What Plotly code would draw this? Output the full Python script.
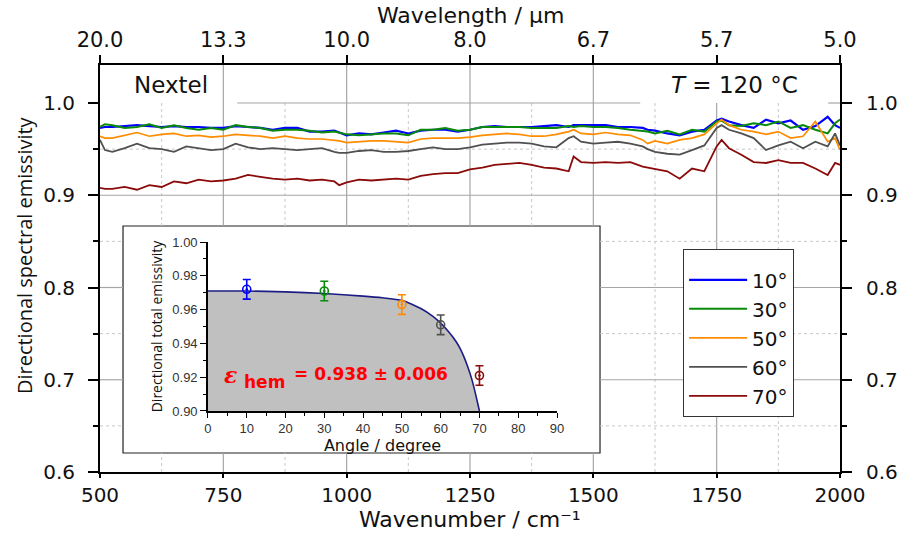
import plotly.graph_objects as go

# ---- spectral emissivity (Nextel, T = 120 °C) ----
wavenumber = [500, 510, 525, 550, 575, 600, 625, 650, 675, 700, 725, 750, 775, 800, 825, 850,
              875, 900, 925, 950, 975, 985, 1000, 1025, 1050, 1075, 1100, 1125, 1150, 1175, 1200,
              1225, 1250, 1275, 1300, 1325, 1350, 1375, 1400, 1425, 1450, 1460, 1475, 1500, 1525,
              1550, 1575, 1600, 1610, 1625, 1650, 1675, 1700, 1725, 1750, 1760, 1775, 1800, 1825,
              1850, 1875, 1900, 1925, 1950, 1975, 1990, 2000]

eps_10 = [0.973, 0.974, 0.974, 0.975, 0.976, 0.975, 0.974, 0.975, 0.974, 0.974, 0.973, 0.973,
          0.975, 0.974, 0.973, 0.971, 0.973, 0.973, 0.969, 0.969, 0.970, 0.968, 0.965, 0.967,
          0.966, 0.968, 0.970, 0.967, 0.970, 0.971, 0.971, 0.969, 0.971, 0.974, 0.975, 0.974,
          0.974, 0.974, 0.975, 0.976, 0.974, 0.976, 0.976, 0.976, 0.976, 0.974, 0.974, 0.973,
          0.971, 0.970, 0.967, 0.965, 0.969, 0.971, 0.981, 0.983, 0.980, 0.976, 0.973, 0.982,
          0.978, 0.981, 0.971, 0.975, 0.985, 0.976, 0.973]

eps_30 = [0.974, 0.977, 0.976, 0.973, 0.974, 0.977, 0.973, 0.976, 0.973, 0.971, 0.973, 0.971,
          0.976, 0.974, 0.973, 0.970, 0.971, 0.971, 0.970, 0.968, 0.969, 0.968, 0.966, 0.965,
          0.966, 0.967, 0.967, 0.965, 0.971, 0.971, 0.973, 0.970, 0.971, 0.974, 0.974, 0.974,
          0.974, 0.973, 0.973, 0.973, 0.975, 0.974, 0.975, 0.974, 0.974, 0.973, 0.971, 0.970,
          0.969, 0.967, 0.970, 0.966, 0.971, 0.969, 0.980, 0.981, 0.976, 0.975, 0.978, 0.976,
          0.980, 0.973, 0.976, 0.971, 0.967, 0.978, 0.982]

eps_50 = [0.964, 0.962, 0.962, 0.965, 0.968, 0.964, 0.966, 0.967, 0.964, 0.965, 0.963, 0.964,
          0.966, 0.965, 0.964, 0.962, 0.964, 0.962, 0.961, 0.961, 0.960, 0.959, 0.957, 0.958,
          0.959, 0.959, 0.958, 0.957, 0.961, 0.962, 0.962, 0.962, 0.963, 0.965, 0.966, 0.967,
          0.966, 0.964, 0.964, 0.966, 0.969, 0.971, 0.967, 0.966, 0.968, 0.966, 0.965, 0.960,
          0.956, 0.959, 0.956, 0.960, 0.962, 0.966, 0.978, 0.982, 0.976, 0.971, 0.969, 0.966,
          0.969, 0.962, 0.964, 0.980, 0.958, 0.962, 0.949]

eps_60 = [0.960, 0.949, 0.947, 0.951, 0.956, 0.951, 0.950, 0.947, 0.953, 0.951, 0.949, 0.950,
          0.956, 0.952, 0.950, 0.951, 0.950, 0.949, 0.950, 0.951, 0.947, 0.946, 0.946, 0.948,
          0.949, 0.947, 0.947, 0.948, 0.950, 0.952, 0.950, 0.950, 0.952, 0.955, 0.956, 0.957,
          0.957, 0.956, 0.953, 0.952, 0.962, 0.964, 0.958, 0.956, 0.957, 0.958, 0.956, 0.953,
          0.950, 0.947, 0.945, 0.944, 0.949, 0.954, 0.973, 0.976, 0.971, 0.967, 0.962, 0.949,
          0.954, 0.958, 0.951, 0.958, 0.953, 0.967, 0.954]

eps_70 = [0.908, 0.907, 0.907, 0.909, 0.906, 0.911, 0.909, 0.915, 0.913, 0.917, 0.915, 0.916,
          0.918, 0.922, 0.920, 0.918, 0.917, 0.918, 0.916, 0.917, 0.915, 0.911, 0.914, 0.917,
          0.916, 0.917, 0.918, 0.917, 0.921, 0.923, 0.924, 0.924, 0.928, 0.930, 0.933, 0.934,
          0.935, 0.933, 0.930, 0.929, 0.926, 0.942, 0.936, 0.935, 0.936, 0.935, 0.936, 0.931,
          0.930, 0.928, 0.926, 0.918, 0.929, 0.926, 0.953, 0.960, 0.951, 0.944, 0.936, 0.935,
          0.938, 0.935, 0.935, 0.929, 0.922, 0.935, 0.933]

series_names = ["10°", "30°", "50°", "60°", "70°"]
series_colors = ["#0000ff", "#0a8a0a", "#ff8c00", "#505050", "#8b0a0a"]
series_widths = [2.2, 2.0, 1.7, 1.8, 1.8]

wn_ticks = [500, 750, 1000, 1250, 1500, 1750, 2000]
wl_labels = ["20.0", "13.3", "10.0", "8.0", "6.7", "5.7", "5.0"]
y_ticks = [0.6, 0.7, 0.8, 0.9, 1.0]

# ---- directional total emissivity (inset) ----
angle_deg = [10, 30, 50, 60, 70]
eps_total = [0.972, 0.971, 0.963, 0.951, 0.921]
eps_total_err = [0.0058, 0.0058, 0.0058, 0.0058, 0.0058]

fit_angle = [0, 10, 20, 30, 40, 45, 50, 55, 58, 60, 62, 64, 65, 66, 67, 68, 69, 70]
fit_eps = [0.971, 0.971, 0.9705, 0.9695, 0.968, 0.967, 0.9655, 0.9605, 0.956, 0.952,
           0.947, 0.941, 0.937, 0.932, 0.926, 0.919, 0.910, 0.900]

Y_MIN, Y_MAX = 0.6, 1.0412
X_MIN, X_MAX = 500, 2000

fig = go.Figure()

for name, ys, col, w in zip(series_names, [eps_10, eps_30, eps_50, eps_60, eps_70],
                            series_colors, series_widths):
    fig.add_trace(go.Scatter(x=wavenumber, y=ys, mode="lines", name=name,
                             line=dict(color=col, width=w)))

# empty traces so the wavelength (top) and mirrored (right) axes get drawn
fig.add_trace(go.Scatter(x=[], y=[], xaxis="x2", yaxis="y", showlegend=False,
                         hoverinfo="skip"))
fig.add_trace(go.Scatter(x=[], y=[], xaxis="x", yaxis="y2", showlegend=False,
                         hoverinfo="skip"))

# inset: shaded area under the angular fit
fig.add_trace(go.Scatter(x=fit_angle, y=fit_eps, mode="lines", xaxis="x3", yaxis="y3",
                         line=dict(color="#1c1c84", width=1.6, shape="spline", smoothing=0.5),
                         fill="tozeroy", fillcolor="#c0c0c0", showlegend=False))

for a, e, err, col in zip(angle_deg, eps_total, eps_total_err, series_colors):
    fig.add_trace(go.Scatter(x=[a], y=[e], mode="markers", xaxis="x3", yaxis="y3",
                             marker=dict(symbol="circle-open-dot", size=8, color=col,
                                         line=dict(width=1.6, color=col)),
                             error_y=dict(type="data", array=[err], visible=True,
                                          color=col, thickness=1.6, width=4),
                             showlegend=False))

# ---- grid drawn as shapes, kept clear of the inset panel ----
INSET_X = (546.6, 1513.5)
INSET_Y = (0.6206, 0.8667)


def vsegs(x, y0, y1):
    if INSET_X[0] < x < INSET_X[1]:
        return [(y0, INSET_Y[0]), (INSET_Y[1], y1)]
    return [(y0, y1)]


def hsegs(y, x0, x1):
    if INSET_Y[0] < y < INSET_Y[1]:
        return [(x0, INSET_X[0]), (INSET_X[1], x1)]
    return [(x0, x1)]


shapes = []
major_line = dict(color="#a6a6a6", width=1.2)
minor_line = dict(color="#c8c8c8", width=1, dash="dot")

for xv in [750, 1000, 1250, 1500]:
    for a, b in vsegs(xv, Y_MIN, Y_MAX):
        shapes.append(dict(type="line", xref="x", yref="y", x0=xv, x1=xv, y0=a, y1=b,
                           line=major_line, layer="below"))
for a, b in vsegs(1750, Y_MIN, 1.0):
    shapes.append(dict(type="line", xref="x", yref="y", x0=1750, x1=1750, y0=a, y1=b,
                       line=major_line, layer="below"))
for xv in [625, 875, 1125, 1375, 1625, 1875]:
    for a, b in vsegs(xv, Y_MIN, 1.0):
        shapes.append(dict(type="line", xref="x", yref="y", x0=xv, x1=xv, y0=a, y1=b,
                           line=minor_line, layer="below"))
for yv in [0.7, 0.8, 0.9]:
    for a, b in hsegs(yv, X_MIN, X_MAX):
        shapes.append(dict(type="line", xref="x", yref="y", x0=a, x1=b, y0=yv, y1=yv,
                           line=major_line, layer="below"))
for a, b in [(778, 1595), (1976, 2000)]:
    shapes.append(dict(type="line", xref="x", yref="y", x0=a, x1=b, y0=1.0, y1=1.0,
                       line=major_line, layer="below"))
for yv in [0.65, 0.75, 0.85, 0.95]:
    for a, b in hsegs(yv, X_MIN, X_MAX):
        shapes.append(dict(type="line", xref="x", yref="y", x0=a, x1=b, y0=yv, y1=yv,
                           line=minor_line, layer="below"))

# inset frame
shapes.append(dict(type="rect", xref="paper", yref="paper", x0=0.0311, x1=0.6757,
                   y0=0.0467, y1=0.6044, line=dict(color="#222222", width=1.2),
                   fillcolor="white", layer="below"))

MAIN_FONT = "DejaVu Sans, Verdana, sans-serif"
axis_common = dict(showline=True, linecolor="black", linewidth=2, ticks="outside",
                   tickcolor="black", tickwidth=2, showgrid=False, zeroline=False,
                   automargin=False)

fig.update_layout(
    width=898, height=533,
    margin=dict(l=100, r=58, t=65, b=61),
    paper_bgcolor="white", plot_bgcolor="white",
    showlegend=True,
    shapes=shapes,
    xaxis=dict(range=[X_MIN, X_MAX], tickvals=wn_ticks, ticklen=4,
               tickfont=dict(family=MAIN_FONT, size=20, color="#111111"),
               **axis_common),
    xaxis2=dict(range=[X_MIN, X_MAX], overlaying="x", side="top", anchor="y",
                tickvals=wn_ticks, ticktext=wl_labels, ticklen=8,
                tickfont=dict(family=MAIN_FONT, size=21, color="#111111"),
                **axis_common),
    yaxis=dict(range=[Y_MIN, Y_MAX], tickvals=y_ticks, tickformat=".1f", ticklen=10,
               ticklabelstandoff=9,
               minor=dict(dtick=0.05, ticklen=5, tickwidth=1.5, ticks="outside",
                          tickcolor="black"),
               tickfont=dict(family=MAIN_FONT, size=20, color="#111111"),
               **axis_common),
    yaxis2=dict(range=[Y_MIN, Y_MAX], overlaying="y", side="right", anchor="x",
                tickvals=y_ticks, tickformat=".1f", ticklen=10, ticklabelstandoff=10,
                minor=dict(dtick=0.05, ticklen=5, tickwidth=1.5, ticks="outside",
                           tickcolor="black"),
                tickfont=dict(family=MAIN_FONT, size=20, color="#111111"),
                **axis_common),
    xaxis3=dict(domain=[0.1459, 0.6176], anchor="y3", range=[0, 90], dtick=10,
                showline=True, linecolor="black", linewidth=1.5, ticks="outside",
                ticklen=5, tickwidth=1.2, tickcolor="black", showgrid=False, zeroline=False,
                automargin=False,
                minor=dict(dtick=5, ticklen=3, ticks="outside", tickcolor="black"),
                tickfont=dict(family="Liberation Sans, Arial, sans-serif", size=13,
                              color="#333333"),
                title=dict(text="Angle / degree",
                           font=dict(family=MAIN_FONT, size=16, color="#111111"), standoff=2)),
    yaxis3=dict(domain=[0.1499, 0.5651], anchor="x3", range=[0.9, 1.0], dtick=0.02,
                tickformat=".2f", showline=True, linecolor="black", linewidth=1.5,
                ticks="outside", ticklen=6, tickwidth=1.2, tickcolor="black",
                showgrid=False, zeroline=False, automargin=False,
                minor=dict(dtick=0.01, ticklen=3, ticks="outside", tickcolor="black"),
                tickfont=dict(family="Liberation Sans, Arial, sans-serif", size=13,
                              color="#333333"),
                title=dict(text="Directional total emissivity",
                           font=dict(family="Open Sans, sans-serif", size=14,
                                     color="#111111"), standoff=6)),
    legend=dict(x=0.788, y=0.548, xanchor="left", yanchor="top", bgcolor="white",
                bordercolor="#333333", borderwidth=1,
                font=dict(family=MAIN_FONT, size=20, color="#111111"),
                title=dict(text=" ", font=dict(size=8)),
                itemwidth=58),
)

annotations = [
    dict(text="Directional spectral emissivity", xref="paper", yref="paper",
         x=-0.1027, y=0.533, xanchor="center", yanchor="middle", textangle=-90,
         showarrow=False,
         font=dict(family="Open Sans, sans-serif", size=20, color="#111111")),
    dict(text="Wavenumber / cm⁻¹", xref="paper", yref="paper",
         x=0.5, y=-0.1179, xanchor="center", yanchor="middle", showarrow=False,
         font=dict(family=MAIN_FONT, size=22, color="#111111")),
    dict(text="Wavelength / µm", xref="paper", yref="paper",
         x=0.5, y=1.1204, xanchor="center", yanchor="middle", showarrow=False,
         font=dict(family=MAIN_FONT, size=22, color="#111111")),
    dict(text="Nextel", xref="x", yref="y", x=644, y=1.0195, showarrow=False,
         font=dict(family=MAIN_FONT, size=23, color="#111111")),
    dict(text="<i>T</i> = 120 °C", xref="x", yref="y", x=1787, y=1.0195, showarrow=False,
         font=dict(family=MAIN_FONT, size=23, color="#111111")),
    dict(text="<b><i>ε</i></b>", xref="x3", yref="y3", x=5.7, y=0.9213, showarrow=False,
         font=dict(family="DejaVu Serif, serif", size=22, color="#ff0000")),
    dict(text="<b>hem</b>", xref="x3", yref="y3", x=8.7, y=0.9172, xanchor="left",
         showarrow=False, font=dict(family=MAIN_FONT, size=17, color="#ff0000")),
    dict(text="<b>= 0.938 ± 0.006</b>", xref="x3", yref="y3", x=21.6, y=0.9219,
         xanchor="left", showarrow=False,
         font=dict(family=MAIN_FONT, size=17, color="#ff0000")),
]
fig.update_layout(annotations=annotations)

fig.write_html("out.html")
